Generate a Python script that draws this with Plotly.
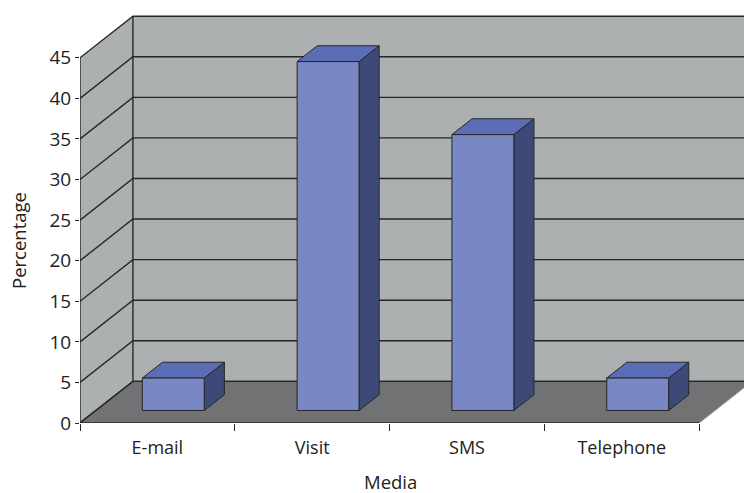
import plotly.graph_objects as go

# ---- data ----
categories = ["E-mail", "Visit", "SMS", "Telephone"]
percentages = [4, 43, 34, 4]
y_ticks = [0, 5, 10, 15, 20, 25, 30, 35, 40, 45]
x_title = "Media"
y_title = "Percentage"

# ---- 3D (oblique) geometry in data units ----
DX = 0.342      # depth offset along category axis
DY = 5.13       # depth offset along value axis
BAR_W = 0.40
F0, F1 = 0.30, 0.68
YMAX = 45
NCAT = len(categories)

WALL = "#adb0b1"
FLOOR = "#717273"
BAR_FRONT = "#7987c4"
BAR_TOP = "#5a6db5"
BAR_SIDE = "#3d4a78"
LINE = "#262626"
FONT = "Open Sans"

fig = go.Figure()


def poly(xs, ys, fill, lw=1.0, lc=LINE):
    fig.add_trace(go.Scatter(
        x=list(xs) + [xs[0]], y=list(ys) + [ys[0]], mode="lines",
        fill="toself", fillcolor=fill, line=dict(color=lc, width=lw),
        hoverinfo="skip", showlegend=False))


def line(xs, ys, lw=1.4, lc=LINE):
    fig.add_trace(go.Scatter(
        x=xs, y=ys, mode="lines", line=dict(color=lc, width=lw),
        hoverinfo="skip", showlegend=False))


EXT = NCAT + 1.0
# back wall
poly([DX, DX + EXT, DX + EXT, DX], [DY, DY, DY + YMAX, DY + YMAX], WALL, 0)
# left wall
poly([0, 0, DX, DX], [0, YMAX, YMAX + DY, DY], WALL, 0)
# gridlines
for v in y_ticks:
    line([0, DX, DX + EXT], [v, v + DY, v + DY])
line([0, 0], [0, YMAX])
line([DX, DX], [DY, DY + YMAX])
# floor
poly([0, NCAT, NCAT + DX, DX + EXT, DX + EXT, DX], [0, 0, DY, DY, DY, DY], FLOOR, 0)
line([0, NCAT], [0, 0])
line([NCAT, NCAT + DX], [0, DY], lw=1.0, lc="#9a9a9a")
line([0, DX, DX + EXT], [0, DY, DY])

# bars
dxx = (F1 - F0) * DX
dyy = (F1 - F0) * DY
for i, v in enumerate(percentages):
    xl = i + 0.5 - BAR_W / 2 + F0 * DX
    xr = xl + BAR_W
    yb = F0 * DY
    yt = yb + v
    poly([xr, xr + dxx, xr + dxx, xr], [yb, yb + dyy, yt + dyy, yt], BAR_SIDE)
    poly([xl, xr, xr + dxx, xl + dxx], [yt, yt, yt + dyy, yt + dyy], BAR_TOP)
    poly([xl, xr, xr, xl], [yb, yb, yt, yt], BAR_FRONT)

W, H = 744, 493
ML, MR, MT, MB = 80, 0, 10, 70
PX_PER_CAT = 154.8
PX_PER_VAL = 8.115
xmax = (W - ML - MR) / PX_PER_CAT
ymax = (H - MT - MB) / PX_PER_VAL

fig.update_layout(
    width=W, height=H,
    margin=dict(l=ML, r=MR, t=MT, b=MB, autoexpand=False),
    paper_bgcolor="white", plot_bgcolor="white",
    font=dict(family=FONT, size=18, color="#222222"),
    xaxis=dict(range=[0, xmax], showgrid=False, zeroline=False, showline=False,
               tickvals=[i + 0.5 for i in range(NCAT)], ticktext=categories,
               ticks="", ticklabelstandoff=12, tickfont=dict(size=18),
               minor=dict(tickvals=list(range(NCAT + 1)), ticks="outside",
                          ticklen=7, tickcolor=LINE, tickwidth=1.2),
               fixedrange=True),
    yaxis=dict(range=[0, ymax], showgrid=False, zeroline=False, showline=False,
               tickvals=y_ticks, ticks="outside", ticklen=4, tickcolor=LINE,
               tickwidth=1.2, tickfont=dict(size=19), fixedrange=True),
    annotations=[
        dict(text=y_title, xref="paper", yref="paper", x=0, y=(423 - 241) / 413,
             xshift=-62, xanchor="center", yanchor="middle", textangle=-90,
             showarrow=False, font=dict(size=18.5)),
        dict(text=x_title, xref="paper", yref="paper", x=(390 - 80) / 664, y=0,
             yshift=-58, xanchor="center", yanchor="middle", borderpad=0,
             showarrow=False, font=dict(size=18.5)),
    ],
)

fig.write_html("out.html")
